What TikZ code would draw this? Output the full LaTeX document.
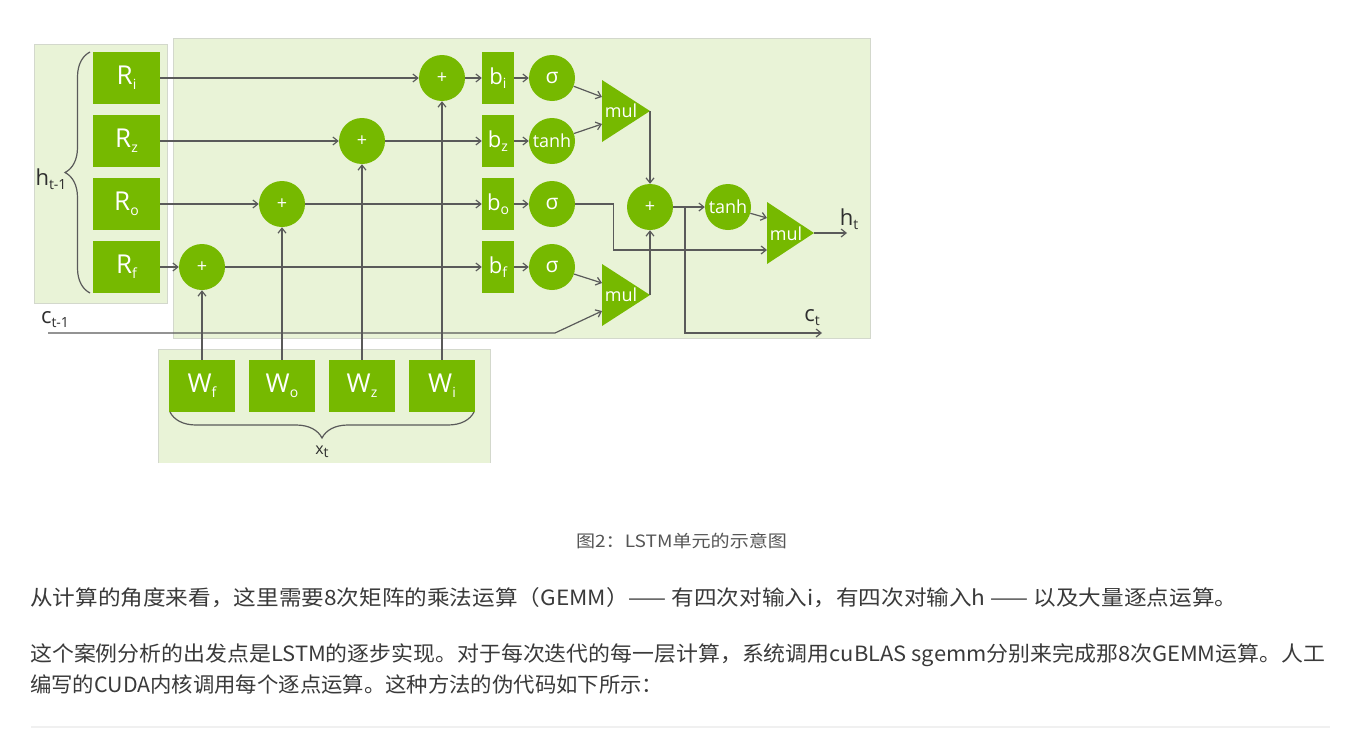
\documentclass[tikz,border=0pt]{standalone}
\usepackage{graphicx}
\usepackage{fontspec}
\setmainfont{Open Sans}
\newfontfamily\cjk{Noto Sans CJK SC}
\usetikzlibrary{arrows.meta,decorations.pathreplacing,calc}
\definecolor{nvg}{HTML}{76B900}
\definecolor{panelfill}{HTML}{E9F3D7}
\definecolor{panelline}{HTML}{D3D8CC}
\definecolor{wirec}{HTML}{5A5A5A}
\definecolor{txt}{HTML}{2E2E2E}
\definecolor{ptxt}{HTML}{3A3A3A}
\definecolor{capt}{HTML}{555555}
\newcommand{\mysub}[2]{#1\raisebox{-0.35ex}{\fontsize{14}{14}\selectfont #2}}
\newcommand{\fitw}[2]{\resizebox{#1}{\height}{#2}}
\begin{document}
\begin{tikzpicture}[x=1pt,y=-1pt,
  panel/.style={draw=panelline, fill=panelfill, line width=1pt, inner sep=0pt, anchor=north west},
  rbox/.style={rectangle, fill=nvg, text=white, minimum width=67pt, minimum height=52pt, inner sep=0pt, font=\fontsize{26}{26}\selectfont},
  wbox/.style={rbox, minimum width=66pt},
  bbox/.style={rectangle, fill=nvg, text=white, minimum width=32pt, minimum height=52pt, inner sep=0pt, font=\fontsize{22}{22}\selectfont},
  op/.style={circle, fill=nvg, text=white, minimum size=46pt, inner sep=0pt, font=\fontsize{18}{18}\selectfont},
  multxt/.style={text=white, inner sep=0pt, font=\fontsize{18}{18}\selectfont},
  wire/.style={draw=wirec, line width=1.2pt},
  arr/.style={wire, -{Straight Barb[length=5pt,width=8pt]}},
  lab/.style={text=txt, inner sep=0pt, font=\fontsize{22}{22}\selectfont},
  brc/.style={draw=wirec, line width=1.2pt, decorate},
  para/.style={anchor=west, inner sep=0pt, text=ptxt, font=\cjk\fontsize{21}{21}\selectfont},
]
\useasboundingbox (0,0) rectangle (1365,728);
\fill[white] (0,0) rectangle (1365,728);

% panels
\node[panel, minimum width=697pt, minimum height=300pt] (mainpanel) at (173,38) {};
\node[panel, minimum width=133pt, minimum height=259pt] (hpanel) at (34,44) {};
\fill[panelfill] (158,349) rectangle (490,463);
\draw[panelline, line width=1pt] (158,463) -- (158,349) -- (490,349) -- (490,463);

% R boxes
\node[rbox] (Ri) at (126.5,78) {\mysub{R}{i}};
\node[rbox] (Rz) at (126.5,141) {\mysub{R}{z}};
\node[rbox] (Ro) at (126.5,204) {\mysub{R}{o}};
\node[rbox] (Rf) at (126.5,267) {\mysub{R}{f}};

% W boxes
\node[wbox] (Wf) at (202,386) {\mysub{W}{f}};
\node[wbox] (Wo) at (282,386) {\mysub{W}{o}};
\node[wbox] (Wz) at (362,386) {\mysub{W}{z}};
\node[wbox] (Wi) at (442,386) {\mysub{W}{i}};

% plus nodes
\node[op] (pf) at (202,267) {+};
\node[op] (po) at (282,204) {+};
\node[op] (pz) at (362,141) {+};
\node[op] (pi) at (442,78) {+};

% bias boxes
\node[bbox] (bi) at (498,78) {\mysub{b}{i}};
\node[bbox] (bz) at (498,141) {\mysub{b}{z}};
\node[bbox] (bo) at (498,204) {\mysub{b}{o}};
\node[bbox] (bf) at (498,267) {\mysub{b}{f}};

% activations
\node[op, font=\fontsize{21}{21}\selectfont] (si) at (552,78) {σ};
\node[op] (tz) at (552,141) {tanh};
\node[op, font=\fontsize{21}{21}\selectfont] (so) at (552,204) {σ};
\node[op, font=\fontsize{21}{21}\selectfont] (sf) at (552,267) {σ};

% cell plus and tanh
\node[op] (pc) at (650,207) {+};
\node[op] (th) at (728,207) {tanh};

% mul triangles
\fill[nvg] (602,80) -- (650,111) -- (602,142) -- cycle;
\node[multxt] (mul1) at (621,111) {mul};
\coordinate (m1a) at (602,97);
\coordinate (m1b) at (602,124);
\coordinate (m1o) at (650,111);

\fill[nvg] (602,264) -- (650,295) -- (602,326) -- cycle;
\node[multxt] (mul2) at (621,295) {mul};
\coordinate (m2a) at (602,283);
\coordinate (m2b) at (602,311);
\coordinate (m2o) at (650,295);

\fill[nvg] (767,202) -- (814,233) -- (767,264) -- cycle;
\node[multxt] (mul3) at (786,234) {mul};
\coordinate (m3a) at (767,218);
\coordinate (m3b) at (767,250);
\coordinate (m3o) at (814,233);

% free ends
\coordinate (hout) at (847,233);
\coordinate (ctend) at (822,333);
\coordinate (br) at (685,207);
\coordinate (cin) at (48,333);
\coordinate (cbend) at (555,333);

% R -> plus
\draw[arr] (Ri) -- (pi);
\draw[arr] (Rz) -- (pz);
\draw[arr] (Ro) -- (po);
\draw[arr] (Rf) -- (pf);
% W -> plus
\draw[arr] (Wf.north) -- (pf.south);
\draw[arr] (Wo.north) -- (po.south);
\draw[arr] (Wz.north) -- (pz.south);
\draw[arr] (Wi.north) -- (pi.south);
% plus -> bias
\draw[arr] (pi) -- (bi);
\draw[arr] (pz) -- (bz);
\draw[arr] (po) -- (bo);
\draw[arr] (pf) -- (bf);
% bias -> act
\draw[arr] (bi) -- (si);
\draw[arr] (bz) -- (tz);
\draw[arr] (bo) -- (so);
\draw[arr] (bf) -- (sf);
% act -> mul
\draw[arr] (si) -- (m1a);
\draw[arr] (tz) -- (m1b);
\draw[arr] (sf) -- (m2a);
\draw[arr] (so.east) -- ++(38,0) |- (m3b);
\draw[arr] (cin) -- (cbend) -- (m2b);
% mul -> cell plus
\draw[arr] (m1o) -- (pc.north);
\draw[arr] (m2o) -- (pc.south);
\draw[arr] (pc) -- (th);
\draw[arr] (br) |- (ctend);
\draw[arr] (th) -- (m3a);
\draw[arr] (m3o) -- (hout);

% braces
\draw[brc, decoration={brace, amplitude=25pt}] (90,293) -- (90,52);
\draw[brc, decoration={brace, amplitude=26pt}] (474,412) -- (170,412);

% labels
\node[lab] (hlab) at (51,179) {\mysub{h}{t-1}};
\node[lab] (clab) at (55,320) {\mysub{c}{t-1}};
\node[lab] (ctlab) at (812,318) {\mysub{c}{t}};
\node[lab] (htlab) at (849,219) {\mysub{h}{t}};
\node[lab, font=\fontsize{16}{16}\selectfont] (xlab) at (322,452) {\mysub{x}{t}};

% text below
\node[inner sep=0pt, text=capt, font=\cjk\fontsize{17}{17}\selectfont] (cap) at (681.5,541) {\fitw{211pt}{图2：LSTM单元的示意图}};
\node[para] (p1) at (30,598) {\fitw{1207pt}{从计算的角度来看，这里需要8次矩阵的乘法运算（GEMM）—— 有四次对输入i，有四次对输入h —— 以及大量逐点运算。}};
\node[para] (p2a) at (30,655) {\fitw{1295pt}{这个案例分析的出发点是LSTM的逐步实现。对于每次迭代的每一层计算，系统调用cuBLAS sgemm分别来完成那8次GEMM运算。人工}};
\node[para] (p2b) at (30,685) {\fitw{633pt}{编写的CUDA内核调用每个逐点运算。这种方法的伪代码如下所示：}};
\fill[black!6] (31,726) rectangle (1330,728);
\end{tikzpicture}
\end{document}
